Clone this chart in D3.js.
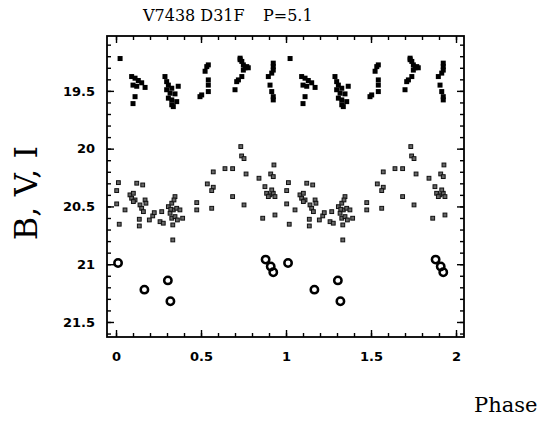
<!DOCTYPE html>
<html lang="en">
<head>
<meta charset="utf-8">
<title>V7438 D31F</title>
<script src="https://d3js.org/d3.v7.min.js"></script>
<style>
body { margin: 0; background: #fff; }
</style>
</head>
<body>
<svg id="chart" width="540" height="426"></svg>
<script>
// light curve, phase folded with P=5.1 (each point shown at phase and phase+1)

// B : filled squares
var bPhase = [0.024, 0.092, 0.112, 0.131, 0.151, 0.100, 0.122, 0.171, 0.112, 0.100,
	0.288, 0.298, 0.308, 0.328, 0.298, 0.318, 0.347, 0.366, 0.308, 0.328, 0.357, 0.328, 0.337,
	0.494, 0.504, 0.524, 0.534, 0.543, 0.543, 0.543, 0.543,
	0.700, 0.710, 0.720, 0.740, 0.730, 0.740, 0.749, 0.759, 0.769, 0.778, 0.749, 0.730,
	0.896, 0.906, 0.916, 0.925, 0.925, 0.925, 0.916, 0.925, 0.925]
var bMag = [19.22, 19.376, 19.39, 19.41, 19.43, 19.45, 19.46, 19.47, 19.55, 19.61,
	19.376, 19.42, 19.45, 19.477, 19.49, 19.52, 19.526, 19.46, 19.563, 19.578, 19.593, 19.62, 19.636,
	19.55, 19.535, 19.33, 19.29, 19.275, 19.405, 19.45, 19.506,
	19.49, 19.42, 19.405, 19.376, 19.23, 19.245, 19.275, 19.30, 19.29, 19.30, 19.32, 19.217,
	19.376, 19.45, 19.346, 19.32, 19.29, 19.26, 19.506, 19.55, 19.578]

// V : small starred squares
var vPhase = [0.014, 0.004, 0.004, 0.019, 0.053, 0.082, 0.102, 0.092, 0.112, 0.102,
	0.122, 0.157, 0.141, 0.151, 0.171, 0.176, 0.161, 0.137, 0.137, 0.196,
	0.216, 0.225, 0.269, 0.259, 0.278, 0.308, 0.328, 0.347, 0.318, 0.337,
	0.357, 0.328, 0.347, 0.376, 0.392, 0.334, 0.361, 0.341, 0.322, 0.334,
	0.475, 0.475, 0.563, 0.537, 0.572, 0.563, 0.572, 0.641, 0.686, 0.686,
	0.734, 0.739, 0.753, 0.765, 0.753, 0.841, 0.863, 0.876, 0.910, 0.925,
	0.929, 0.935, 0.886, 0.906, 0.925, 0.935, 0.896, 0.916]
var vMag = [20.294, 20.363, 20.478, 20.654, 20.530, 20.400, 20.386, 20.429, 20.444, 20.458,
	20.299, 20.314, 20.487, 20.516, 20.444, 20.472, 20.545, 20.611, 20.669, 20.617,
	20.582, 20.554, 20.545, 20.632, 20.645, 20.502, 20.472, 20.415, 20.559, 20.530,
	20.516, 20.602, 20.588, 20.530, 20.602, 20.660, 20.617, 20.444, 20.524, 20.790,
	20.467, 20.530, 20.516, 20.305, 20.334, 20.363, 20.201, 20.173, 20.173, 20.415,
	19.982, 20.063, 20.086, 20.219, 20.487, 20.256, 20.602, 20.329, 20.219, 20.242,
	20.141, 20.574, 20.386, 20.400, 20.386, 20.415, 20.415, 20.357]

// I : open circles
var iPhase = [0.012, 0.167, 0.305, 0.320, 0.880, 0.910, 0.925]
var iMag = [20.99, 21.22, 21.14, 21.32, 20.96, 21.02, 21.07]

var cycles = [0, 1]
var xMajor = [0, 0.5, 1, 1.5, 2]
var yMajor = [19.5, 20, 20.5, 21, 21.5]

var svg = d3.select("#chart")

var x = d3.scaleLinear().domain([-0.053, 2.047]).range([107, 464])
var y = d3.scaleLinear().domain([19.025, 21.63]).range([36, 337])

function fold(ph, mg) {
	var out = []
	cycles.forEach(function(c) {
		ph.forEach(function(p, i) { out.push({p: p + c, m: mg[i]}) })
	})
	return out
}

var xMinor = d3.range(0, 21).map(function(i) { return i / 10 })
var yMinor = d3.range(191, 217).map(function(i) { return i / 10 })

var fmt = function(d) { return d3.format("")(d) }

// axes on four sides, ticks inward
var gx = svg.append("g").attr("transform", "translate(0,337)")
gx.call(d3.axisBottom(x).tickValues(xMinor).tickSize(-4).tickFormat(""))
gx.append("g").call(d3.axisBottom(x).tickValues(xMajor).tickSize(-7).tickPadding(15).tickFormat(fmt))

var gxt = svg.append("g").attr("transform", "translate(0,36)")
gxt.call(d3.axisTop(x).tickValues(xMinor).tickSize(-4).tickFormat(""))
gxt.append("g").call(d3.axisTop(x).tickValues(xMajor).tickSize(-7).tickFormat(""))

var gy = svg.append("g").attr("transform", "translate(107,0)")
gy.call(d3.axisLeft(y).tickValues(yMinor).tickSize(-4).tickFormat(""))
gy.append("g").call(d3.axisLeft(y).tickValues(yMajor).tickSize(-7).tickPadding(12).tickFormat(fmt))

var gyr = svg.append("g").attr("transform", "translate(464,0)")
gyr.call(d3.axisRight(y).tickValues(yMinor).tickSize(-4).tickFormat(""))
gyr.append("g").call(d3.axisRight(y).tickValues(yMajor).tickSize(-7).tickFormat(""))

svg.selectAll(".domain").remove()
svg.selectAll(".tick line").attr("stroke", "#000").attr("stroke-width", 1.4)
svg.selectAll(".tick text")
	.attr("fill", "#000")
	.style("font-family", "'DejaVu Sans', sans-serif")
	.style("font-weight", "bold")
	.style("font-size", "13px")

svg.append("rect")
	.attr("x", x.range()[0]).attr("y", y.range()[0])
	.attr("width", x.range()[1] - x.range()[0])
	.attr("height", y.range()[1] - y.range()[0])
	.attr("fill", "none").attr("stroke", "#000").attr("stroke-width", 1.8)

// B squares
var sq = 5
svg.append("g").selectAll("rect")
	.data(fold(bPhase, bMag))
	.enter().append("rect")
	.attr("x", function(d) { return x(d.p) - sq / 2 })
	.attr("y", function(d) { return y(d.m) - sq / 2 })
	.attr("width", sq).attr("height", sq)
	.attr("fill", "#000")

// V small starred squares
var vs = 3.8
svg.append("g").selectAll("rect")
	.data(fold(vPhase, vMag))
	.enter().append("rect")
	.attr("x", function(d) { return x(d.p) - vs / 2 })
	.attr("y", function(d) { return y(d.m) - vs / 2 })
	.attr("width", vs).attr("height", vs)
	.attr("fill", "#666").attr("stroke", "#111").attr("stroke-width", 1)

// I open circles
svg.append("g").selectAll("circle")
	.data(fold(iPhase, iMag))
	.enter().append("circle")
	.attr("cx", function(d) { return x(d.p) })
	.attr("cy", function(d) { return y(d.m) })
	.attr("r", 3.7)
	.attr("fill", "none").attr("stroke", "#000").attr("stroke-width", 2.5)

// labels
var serif = "'DejaVu Serif', serif"
svg.append("text").attr("x", 143).attr("y", 21)
	.style("font-family", serif).style("font-size", "16px").text("V7438 D31F")
svg.append("text").attr("x", 263).attr("y", 21)
	.style("font-family", serif).style("font-size", "16px").text("P=5.1")

svg.append("text")
	.attr("transform", "translate(37,193) rotate(-90)")
	.attr("text-anchor", "middle")
	.style("font-family", serif).style("font-size", "32px")
	.text("B, V, I")

svg.append("text").attr("x", 474).attr("y", 412)
	.style("font-family", serif).style("font-size", "21px")
	.text("Phase")
</script>
</body>
</html>
